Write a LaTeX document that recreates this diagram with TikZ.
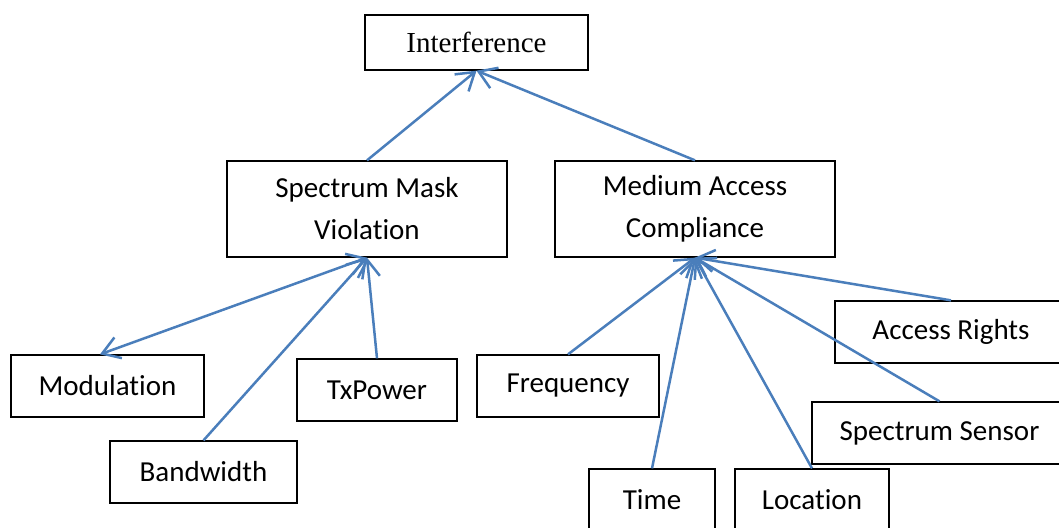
\documentclass[tikz,border=0pt]{standalone}
\usepackage{fontspec}
\setmainfont{Carlito}[Ligatures=NoCommon]
\newfontfamily\seriffont{Liberation Serif}
\usetikzlibrary{arrows.meta}
\definecolor{linkblue}{HTML}{4A7EBB}
\tikzset{
  box/.style={draw=black, line width=1.3pt, inner sep=0pt, align=center,
    font=\fontsize{29}{42}\selectfont},
  link/.style={draw=linkblue, line width=2.5pt,
    -{Straight Barb[length=17pt, width=22pt, line width=2.5pt]}},
  twolink/.style={draw=linkblue, line width=2.5pt,
    {Straight Barb[length=17pt, width=22pt, line width=2.5pt]}-{Straight Barb[length=17pt, width=22pt, line width=2.5pt]}}
}
\begin{document}
\begin{tikzpicture}[x=1pt,y=-1pt]
\useasboundingbox (0,0) rectangle (1059,527);
\clip (0,0) rectangle (1059,527);
\node[box, minimum width=223pt, minimum height=55pt, font=\seriffont\fontsize{29}{42}\selectfont] (int) at (476.5,42.5) {Interference};
\node[box, minimum width=280pt, minimum height=96pt] (smv) at (367,209) {Spectrum Mask\\Violation};
\node[box, minimum width=280pt, minimum height=96pt] (mac) at (695,209) {Medium Access\\Compliance};
\node[box, minimum width=193pt, minimum height=62pt] (mod) at (107.5,386) {Modulation};
\node[box, minimum width=187pt, minimum height=62pt] (bw) at (203.5,472) {Bandwidth};
\node[box, minimum width=160pt, minimum height=62pt] (tx) at (377,390) {TxPower};
\node[box, minimum width=182pt, minimum height=62pt] (fr) at (568,386) {Frequency};
\node[box, minimum width=126pt, minimum height=62pt] (time) at (652,500) {Time};
\node[box, minimum width=154pt, minimum height=62pt] (loc) at (812,500) {Location};
\node[box, minimum width=232pt, minimum height=62pt] (ar) at (951,332) {Access Rights};
\node[box, minimum width=255pt, minimum height=62pt] (ss) at (939.5,433) {Spectrum Sensor};
% connectors
\draw[link] (smv.north) -- (int.south);
\draw[link] (mac.north) -- (int.south);
\draw[twolink] ([xshift=-7.5pt]mod.north) -- (smv.south);
\draw[link] (bw.north) -- (smv.south);
\draw[link] (tx.north) -- (smv.south);
\draw[link] (fr.north) -- (mac.south);
\draw[link] (time.north) -- (mac.south);
\draw[link] (loc.north) -- (mac.south);
\draw[link] (ss.north) -- (mac.south);
\draw[link] (ar.north) -- (mac.south);
\end{tikzpicture}
\end{document}
